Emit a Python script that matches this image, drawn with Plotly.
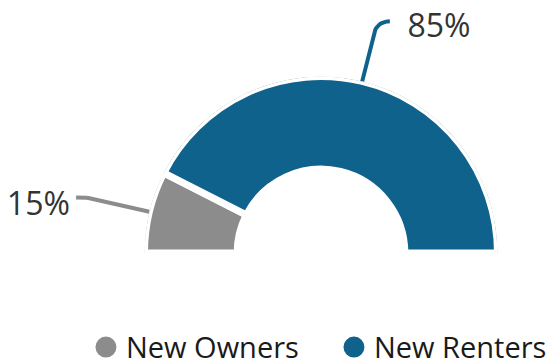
import numpy as np
import plotly.graph_objects as go

# ---- data ----
categories = ["New Owners", "New Renters"]
shares = [15, 85]
labels = ["15%", "85%"]
colors = ["#8C8C8C", "#0F628B"]

HOLE = 0.475         # inner radius as a fraction of the outer radius
SPAN = 180           # half donut

W, H = 552, 358
CX, CY, R = 321, 253, 176.5   # pixel geometry of the half disk (center / radius)

fig = go.Figure()

total = float(sum(shares))
widths = np.array([s / total * SPAN for s in shares])
starts = np.concatenate([[0], np.cumsum(widths)[:-1]])
mids = starts + widths / 2

for cat, w, m, c in zip(categories, widths, mids, colors):
    fig.add_trace(go.Barpolar(
        r=[1 - HOLE], base=[HOLE], theta=[m], width=[w],
        marker=dict(color=c, line=dict(color="white", width=7)),
        showlegend=False, hoverinfo="skip", name=cat,
    ))

# leader lines + labels on a cartesian overlay whose unit = outer radius
label_dx = {-1: 0.035, 1: 0.10}
label_dy = {-1: -0.055, 1: -0.045}
for lab, m, c in zip(labels, mids, colors):
    side = 1 if m > 90 else -1
    phi = np.deg2rad(180 - m)
    u = np.array([np.cos(phi), np.sin(phi)])
    p0 = 1.0 * u
    p1 = 1.27 * u
    ctrl = 1.35 * u
    end = ctrl + np.array([side * 0.075, 0.0])
    t = np.linspace(0, 1, 14)
    bez = ((1 - t) ** 2)[:, None] * p1 + (2 * (1 - t) * t)[:, None] * ctrl + (t ** 2)[:, None] * end
    pts = np.vstack([p0, bez])
    fig.add_trace(go.Scatter(
        x=pts[:, 0], y=pts[:, 1], mode="lines", line=dict(color=c, width=4),
        cliponaxis=False, showlegend=False, hoverinfo="skip",
    ))
    lp = end + np.array([side * label_dx[side], label_dy[side]])
    fig.add_trace(go.Scatter(
        x=[lp[0]], y=[lp[1]], mode="text", text=[lab],
        textposition="middle right" if side > 0 else "middle left",
        textfont=dict(size=32, color="#333333", family="Open Sans"),
        cliponaxis=False, showlegend=False, hoverinfo="skip",
    ))

# legend entries
for cat, c in zip(categories, colors):
    fig.add_trace(go.Scatter(
        x=[None], y=[None], mode="markers", name=cat,
        marker=dict(color=c, size=16, line=dict(color=c, width=5)),
    ))

fig.update_layout(
    width=W, height=H,
    margin=dict(l=0, r=0, t=0, b=0, autoexpand=False),
    paper_bgcolor="white", plot_bgcolor="rgba(0,0,0,0)",
    font=dict(family="Open Sans", color="#1a1a1a"),
    xaxis=dict(range=[-CX / R, (W - CX) / R], visible=False, fixedrange=True, domain=[0, 1]),
    yaxis=dict(range=[-(H - CY) / R, CY / R], visible=False, fixedrange=True, domain=[0, 1]),
    polar=dict(
        domain=dict(x=[(CX - R) / W, (CX + R) / W], y=[1 - CY / H, 1 - (CY - R) / H]),
        sector=[0, 180], hole=0, bgcolor="rgba(0,0,0,0)",
        radialaxis=dict(range=[0, 1], visible=False),
        angularaxis=dict(visible=False, rotation=180, direction="clockwise"),
    ),
    legend=dict(
        orientation="h", x=0.605, xanchor="center", y=0.03, yanchor="middle",
        font=dict(size=29, family="Open Sans", color="#1a1a1a"),
        entrywidth=203, entrywidthmode="pixels", bgcolor="rgba(0,0,0,0)",
    ),
    showlegend=True,
)

fig.write_html("out.html")
